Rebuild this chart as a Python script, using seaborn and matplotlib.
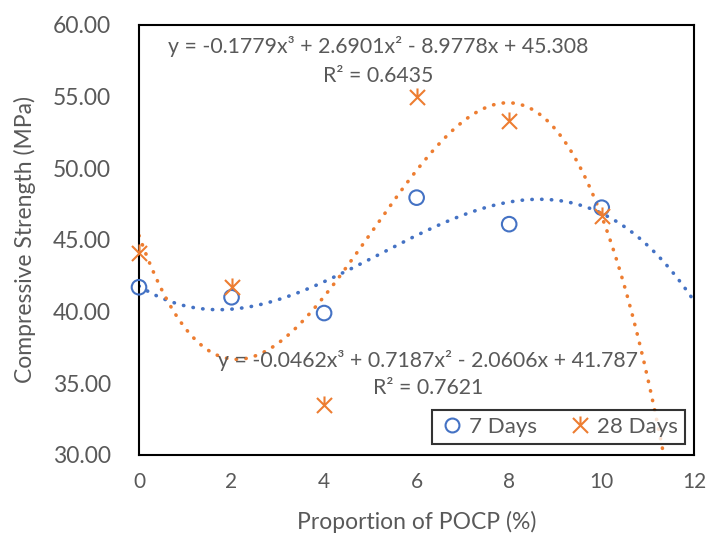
import numpy as np
import pandas as pd
import seaborn as sns
import matplotlib.pyplot as plt
from matplotlib.path import Path
from matplotlib.lines import Line2D

# data
pocp = [0, 2, 4, 6, 8, 10]
days7 = [41.7, 41.0, 39.9, 47.95, 46.1, 47.25]
days28 = [44.1, 41.75, 33.5, 55.0, 53.3, 46.7]

# trendline coefficients shown on the chart (cubic, highest power first)
coef7 = [-0.0462, 0.7187, -2.0606, 41.787]
coef28 = [-0.1779, 2.6901, -8.9778, 45.308]
r2_7 = 0.7621
r2_28 = 0.6435

blue = "#4472C4"
orange = "#ED7D31"
grey = "#595959"

sns.set_style("white")
plt.rcParams['font.family'] = ['Lato', 'DejaVu Sans']

# excel-like star: an X with a stroke going up from the centre
star = Path([(-1, -1), (1, 1), (-1, 1), (1, -1), (0, 0), (0, 1.2)],
            [Path.MOVETO, Path.LINETO, Path.MOVETO, Path.LINETO, Path.MOVETO, Path.LINETO])

fig = plt.figure(figsize=(7.07, 5.41), dpi=100)
ax = fig.add_axes([0.1966, 0.159, 0.7854, 0.795])

xs = np.linspace(0, 12, 300)
trend = pd.DataFrame({"x": xs, "t7": np.polyval(coef7, xs), "t28": np.polyval(coef28, xs)})
sns.lineplot(data=trend, x="x", y="t7", ax=ax, color=blue, lw=2.6,
             linestyle=(0, (0.1, 2.6)), dash_capstyle="round")
sns.lineplot(data=trend, x="x", y="t28", ax=ax, color=orange, lw=2.6,
             linestyle=(0, (0.1, 2.6)), dash_capstyle="round")

pts = pd.DataFrame({"x": pocp, "d7": days7, "d28": days28})
sns.scatterplot(data=pts, x="x", y="d7", ax=ax, marker="o", s=110,
                facecolor="none", edgecolor=blue, linewidth=1.5, zorder=5, clip_on=False)
ax.plot(pts["x"], pts["d28"], linestyle="none", marker=star, markersize=13,
        markeredgecolor=orange, markeredgewidth=1.5, zorder=5, clip_on=False)

ax.set_xlim(0, 12)
ax.set_ylim(30, 60)
ax.set_xticks(range(0, 13, 2))
ax.set_yticks(np.arange(30, 61, 5))
ax.set_yticklabels([f"{v:.2f}" for v in np.arange(30, 61, 5)])
ax.tick_params(length=0, labelsize=16.5, labelcolor=grey)
ax.tick_params(axis="y", pad=20)
ax.tick_params(axis="x", pad=12, labelsize=15)
ax.set_xlabel("Proportion of POCP (%)", fontsize=16.5, color=grey, labelpad=14)
ax.set_ylabel("Compressive Strength (MPa)", fontsize=16.5, color=grey, labelpad=12)
for sp in ax.spines.values():
    sp.set_color("black")
    sp.set_linewidth(1.5)


def eq_text(c):
    return (f"y = {c[0]}x³ + {c[1]}x² - {abs(c[2])}x + {c[3]}")


ax.text(0.431, 0.949, eq_text(coef28), transform=ax.transAxes, ha="center", va="center",
        fontsize=15.3, color=grey)
ax.text(0.431, 0.882, f"R² = {r2_28}", transform=ax.transAxes, ha="center", va="center",
        fontsize=15.3, color=grey)
ax.text(0.521, 0.220, eq_text(coef7), transform=ax.transAxes, ha="center", va="center",
        fontsize=15.3, color=grey)
ax.text(0.521, 0.155, f"R² = {r2_7}", transform=ax.transAxes, ha="center", va="center",
        fontsize=15.3, color=grey)

handles = [
    Line2D([], [], linestyle="none", marker="o", markersize=10, markerfacecolor="none",
           markeredgecolor=blue, markeredgewidth=1.5),
    Line2D([], [], linestyle="none", marker=star, markersize=13,
           markeredgecolor=orange, markeredgewidth=1.5),
]
leg = ax.legend(handles, ["7 Days", "28 Days"], loc="lower right", ncol=2,
                bbox_to_anchor=(0.983, 0.026), borderaxespad=0, fontsize=16,
                frameon=True, fancybox=False, edgecolor="black", handlelength=1.2,
                handletextpad=0.2, columnspacing=1.3, borderpad=0.3)
leg.get_frame().set_linewidth(1.5)
for t in leg.get_texts():
    t.set_color(grey)

fig.savefig("out.png", dpi=100)
